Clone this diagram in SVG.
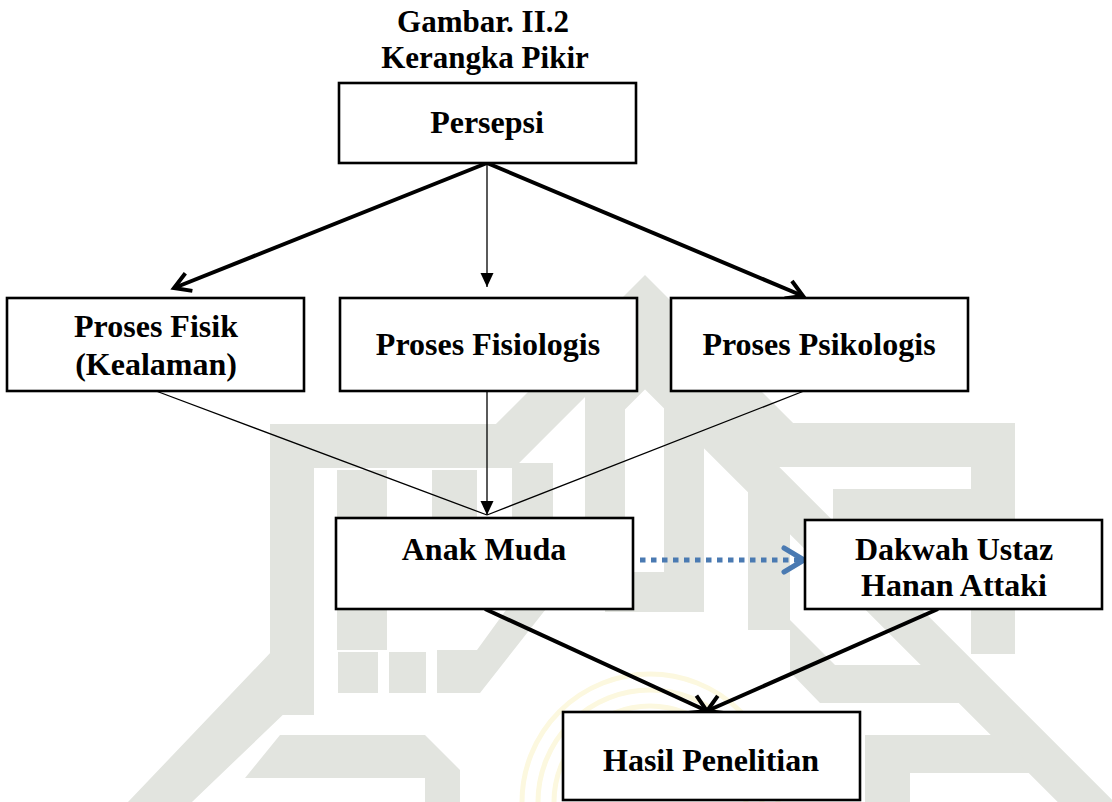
<svg xmlns="http://www.w3.org/2000/svg" width="1112" height="802" viewBox="0 0 1112 802">
  <style>
    .wm { fill: #e2e4df; stroke: none; }
    .wml { fill: none; stroke: #e2e4df; stroke-linejoin: miter; stroke-miterlimit: 10; }
    .logo { fill: none; stroke: #fcf8df; stroke-width: 5; }
    .box { fill: #ffffff; stroke: #000000; stroke-width: 2.6; }
    .lbl { font-family: "Liberation Serif", "Times New Roman", serif; font-weight: bold; font-size: 32px; fill: #000000; text-anchor: middle; }
    .title { font-family: "Liberation Serif", "Times New Roman", serif; font-weight: bold; font-size: 31px; fill: #000000; text-anchor: middle; }
    .thick { fill: none; stroke: #000000; stroke-width: 4; }
    .thin { fill: none; stroke: #000000; stroke-width: 1.3; }
    .dotted { fill: none; stroke: #4a7ab2; stroke-width: 5; stroke-dasharray: 5.5 5.5; }
  </style>
  <defs>
    <marker id="openV" markerUnits="userSpaceOnUse" markerWidth="24" markerHeight="24" refX="0" refY="0" orient="auto" overflow="visible">
      <path d="M-16,-9.5 L0,0 L-16,9.5" fill="none" stroke="#000000" stroke-width="4" stroke-linejoin="miter"/>
    </marker>
    <marker id="tri" markerUnits="userSpaceOnUse" markerWidth="16" markerHeight="16" refX="0" refY="0" orient="auto" overflow="visible">
      <path d="M-14,-6.5 L0,0 L-14,6.5 Z" fill="#000000"/>
    </marker>
  </defs>
  <rect x="0" y="0" width="1112" height="802" fill="#ffffff"/>

  <g id="watermark">
    <polyline class="wml" stroke-width="44" points="292,715 292,446 505,446 645,306 784,445 993,445 993,654"/>
    <polyline class="wml" stroke-width="40" points="605,600 605,401 645,361 1100,816"/>
    <polyline class="wml" stroke-width="40" points="605,592 684,592 684,401"/>
    <rect class="wm" x="337" y="470" width="50" height="180"/>
    <rect class="wm" x="338" y="652" width="40" height="41"/>
    <rect class="wm" x="389" y="652" width="37" height="41"/>
    <rect class="wm" x="432" y="470" width="45" height="48"/>
    <rect class="wm" x="512" y="463" width="41" height="100"/>
    <polygon class="wm" points="437,650 477,650 553,545 553,600 480,693 437,693"/>
    <polygon class="wm" points="128,802 192,802 313,686 313,640 272,640 272,651"/>
    <polygon class="wm" points="280,735 425,735 460,770 460,802 425,802 425,778 245,778"/>
    <rect class="wm" x="748" y="489" width="42" height="141"/>
    <rect class="wm" x="833" y="489" width="140" height="36"/>
    <polygon class="wm" points="790,620 835,665 940,665 975,703 820,703 790,672"/>
    <polygon class="wm" points="865,735 1007,735 1033,773 910,773 910,802 865,802"/>
    <path class="logo" d="M522,802 A128,128 0 0 1 778,802"/>
    <path class="logo" d="M538,802 A112,112 0 0 1 762,802"/>
    <path class="logo" d="M554,802 A96,96 0 0 1 746,802"/>
  </g>

  <g id="title">
    <text class="title" x="483" y="32">Gambar. II.2</text>
    <text class="title" x="485" y="68">Kerangka Pikir</text>
  </g>

  <g id="connectors">
    <line class="thick" x1="487" y1="163" x2="174" y2="288" marker-end="url(#openV)"/>
    <line class="thin" x1="487" y1="163" x2="487" y2="287" marker-end="url(#tri)"/>
    <line class="thick" x1="487" y1="163" x2="803" y2="296" marker-end="url(#openV)"/>
    <line class="thin" x1="156" y1="391" x2="487" y2="515"/>
    <line class="thin" x1="487" y1="391" x2="487" y2="515" marker-end="url(#tri)"/>
    <line class="thin" x1="804" y1="391" x2="487" y2="515"/>
    <line class="dotted" x1="640" y1="560" x2="800" y2="560"/>
    <polyline points="784,548 804,560 784,572" fill="none" stroke="#4a7ab2" stroke-width="5" stroke-linecap="round" stroke-linejoin="round"/>
    <line class="thick" x1="485" y1="609" x2="707" y2="711" marker-end="url(#openV)"/>
    <line class="thick" x1="938" y1="609" x2="707" y2="711" marker-end="url(#openV)"/>
  </g>

  <g id="persepsi">
    <rect class="box" x="339" y="83" width="297" height="80"/>
    <text class="lbl" x="487" y="133">Persepsi</text>
  </g>
  <g id="proses-fisik">
    <rect class="box" x="7" y="298" width="297" height="93"/>
    <text class="lbl" x="156" y="337">Proses Fisik</text>
    <text class="lbl" x="156" y="375">(Kealaman)</text>
  </g>
  <g id="proses-fisiologis">
    <rect class="box" x="340" y="298" width="297" height="93"/>
    <text class="lbl" x="488" y="355">Proses Fisiologis</text>
  </g>
  <g id="proses-psikologis">
    <rect class="box" x="671" y="298" width="297" height="93"/>
    <text class="lbl" x="819" y="355">Proses Psikologis</text>
  </g>
  <g id="anak-muda">
    <rect class="box" x="336" y="518" width="297" height="91"/>
    <text class="lbl" x="484" y="560">Anak Muda</text>
  </g>
  <g id="dakwah">
    <rect class="box" x="805" y="520" width="297" height="89"/>
    <text class="lbl" x="954" y="560">Dakwah Ustaz</text>
    <text class="lbl" x="954" y="596">Hanan Attaki</text>
  </g>
  <g id="hasil">
    <rect class="box" x="563" y="712" width="297" height="88"/>
    <text class="lbl" x="711" y="771">Hasil Penelitian</text>
  </g>
</svg>
